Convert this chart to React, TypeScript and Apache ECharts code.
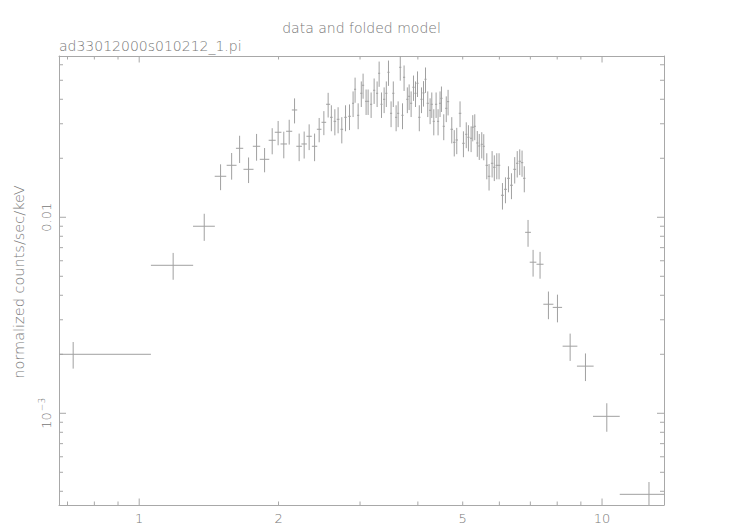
import React, { useEffect, useRef } from 'react';
import * as echarts from 'echarts';

// ---- data ----
const energy = [
  0.720, 1.184, 1.382,
  1.499, 1.584, 1.648, 1.723, 1.793, 1.866, 1.938, 1.996, 2.053, 2.109,
  2.166, 2.216, 2.272, 2.329, 2.393, 2.448, 2.506, 2.560,
  2.601, 2.647, 2.690, 2.740, 2.791, 2.847,
  2.898, 2.927, 2.972, 3.019, 3.046, 3.092, 3.123, 3.170, 3.218, 3.266,
  3.299, 3.338, 3.382, 3.419, 3.456, 3.501, 3.540, 3.590, 3.626, 3.665, 3.706, 3.735,
  3.796, 3.830, 3.868, 3.914, 3.953, 3.993, 4.029, 4.073, 4.114, 4.155, 4.202, 4.251, 4.287, 4.330,
  4.380, 4.423, 4.467, 4.498, 4.550, 4.607, 4.649, 4.735, 4.794, 4.854, 4.934, 5.018,
  5.089, 5.144, 5.213, 5.256, 5.309, 5.376, 5.429, 5.497, 5.552, 5.636, 5.700, 5.787, 5.851, 5.924, 5.991,
  6.093, 6.185, 6.278, 6.372, 6.476, 6.558, 6.640, 6.717, 6.792,
  6.920, 7.096, 7.346, 7.659, 8.011, 8.532, 9.208, 10.24, 12.63,
];

const energyHalfWidth = [
  0.340, 0.124, 0.075,
  0.043, 0.039, 0.030, 0.043, 0.033, 0.044, 0.034, 0.033, 0.033, 0.032,
  0.029, 0.031, 0.031, 0.031, 0.032, 0.028, 0.029, 0.026,
  0.017, 0.017, 0.018, 0.018, 0.018, 0.019,
  0.015, 0.015, 0.016, 0.016, 0.016, 0.016, 0.016, 0.017, 0.017, 0.017,
  0.017, 0.017, 0.018, 0.018, 0.018, 0.019, 0.019, 0.019, 0.019, 0.020, 0.020, 0.020,
  0.020, 0.020, 0.021, 0.021, 0.021, 0.021, 0.022, 0.022, 0.022, 0.022, 0.023, 0.023, 0.023, 0.023,
  0.024, 0.024, 0.024, 0.024, 0.025, 0.025, 0.025, 0.030, 0.030, 0.030, 0.031, 0.031,
  0.027, 0.027, 0.028, 0.028, 0.028, 0.029, 0.029, 0.029, 0.029, 0.035, 0.035, 0.035, 0.036, 0.036, 0.036,
  0.045, 0.045, 0.046, 0.046, 0.047, 0.040, 0.040, 0.040, 0.041,
  0.100, 0.118, 0.128, 0.192, 0.186, 0.313, 0.382, 0.680, 1.710,
];

const rate = [
  0.00200, 0.00569, 0.00900,
  0.01619, 0.01842, 0.02249, 0.01757, 0.02303, 0.01976, 0.02471, 0.02715, 0.02366, 0.02747,
  0.03527, 0.02303, 0.02366, 0.02590, 0.02303, 0.02812, 0.03052, 0.03772,
  0.03237, 0.03088, 0.03162, 0.02812, 0.03237, 0.03275,
  0.03816, 0.04499, 0.03314, 0.04292, 0.04716, 0.03906, 0.03906, 0.03772, 0.04446, 0.04292,
  0.05429, 0.03772, 0.03999, 0.04292, 0.05493, 0.03393, 0.04292, 0.03237, 0.03393, 0.05825, 0.03314, 0.05180,
  0.03999, 0.04143, 0.03816, 0.04606, 0.04292, 0.04828, 0.03237, 0.03999, 0.04310, 0.05060, 0.03816, 0.03515, 0.03772, 0.03088,
  0.03772, 0.03088, 0.03816, 0.04046, 0.02913, 0.03598, 0.03889, 0.02812, 0.02413, 0.02479, 0.03393, 0.02385,
  0.02651, 0.02560, 0.02530, 0.02879, 0.02913, 0.02394, 0.02311, 0.02357, 0.02303, 0.01842, 0.01619, 0.01886, 0.01800, 0.01842, 0.01842,
  0.01295, 0.01389, 0.01581, 0.01457, 0.01757, 0.01886, 0.01931, 0.01899, 0.01581,
  0.00838, 0.00590, 0.00576, 0.00360, 0.00347, 0.00220, 0.00174, 0.000965, 0.000386,
];

const rateError = [
  0.00031, 0.00089, 0.00142,
  0.00244, 0.00286, 0.00357, 0.00262, 0.00359, 0.00280, 0.00376, 0.00385, 0.00367, 0.00398,
  0.00515, 0.00370, 0.00372, 0.00389, 0.00370, 0.00399, 0.00428, 0.00543,
  0.0049, 0.0047, 0.0048, 0.0043, 0.0049, 0.0049,
  0.0057, 0.0066, 0.0050, 0.0064, 0.0069, 0.0058, 0.0058, 0.0056, 0.0066, 0.0064,
  0.0080, 0.0056, 0.0060, 0.0064, 0.0081, 0.0051, 0.0064, 0.0049, 0.0051, 0.0085, 0.0050, 0.0077,
  0.0060, 0.0062, 0.0057, 0.0068, 0.0064, 0.0072, 0.0049, 0.0060, 0.0064, 0.0075, 0.0057, 0.0053, 0.0056, 0.0047,
  0.0056, 0.0047, 0.0057, 0.0060, 0.0044, 0.0054, 0.0058, 0.0043, 0.0037, 0.0038, 0.0051, 0.0036,
  0.0040, 0.0039, 0.0038, 0.0044, 0.0044, 0.0036, 0.0035, 0.0036, 0.0035, 0.0028, 0.0025, 0.0029, 0.0027, 0.0028, 0.0028,
  0.0020, 0.0021, 0.0024, 0.0022, 0.0027, 0.0029, 0.0029, 0.0029, 0.0024,
  0.00131, 0.00092, 0.00090, 0.00058, 0.00056, 0.00035, 0.00028, 0.00016, 0.00006,
];

// axis ranges and ticks
const X_MIN = 0.671;
const X_MAX = 13.61;
const Y_MIN = 3.405e-4;
const Y_MAX = 0.0665;

const xTickValues = [0.7, 0.8, 0.9, 1, 2, 3, 4, 5, 6, 7, 8, 9, 10];
const xMajorTicks = [1, 10];
const xLabelValues = [1, 2, 5, 10];
const xLabelTexts = ['1', '2', '5', '10'];

const yTickValues = [
  0.0004, 0.0005, 0.0006, 0.0007, 0.0008, 0.0009, 0.001,
  0.002, 0.003, 0.004, 0.005, 0.006, 0.007, 0.008, 0.009, 0.01,
  0.02, 0.03, 0.04, 0.05, 0.06,
];
const yMajorTicks = [0.001, 0.01];
const yLabelValues = [0.001, 0.01];
const yLabelTexts = ['{b|10}{sup|\u22123}', '{b|0.01}'];

const titleText = 'data and folded model';
const subtitleText = 'ad33012000s010212_1.pi';
const yAxisTitle = 'normalized counts/sec/keV';

const FONT = '"DejaVu Sans", sans-serif';
const TEXT_COLOR = '#777777';
const LINE_COLOR = '#a0a0a0';
const FRAME_COLOR = '#a8a8a8';

export default function App() {
  const ref = useRef<HTMLDivElement>(null);

  useEffect(() => {
    if (!ref.current) return;
    const chart = echarts.init(ref.current, null, { renderer: 'svg' });

    const pointData = energy.map((e, i) => [e, rate[i], energyHalfWidth[i], rateError[i]]);

    const option: any = {
      animation: false,
      backgroundColor: '#ffffff',
      grid: { left: 59, top: 56, width: 605, height: 449, containLabel: false },
      xAxis: [
        {
          type: 'log', logBase: 10, min: X_MIN, max: X_MAX, position: 'bottom',
          axisLine: { show: true, lineStyle: { color: FRAME_COLOR, width: 1 } },
          axisTick: { show: false }, axisLabel: { show: false }, splitLine: { show: false },
        },
        {
          type: 'log', logBase: 10, min: X_MIN, max: X_MAX, position: 'top',
          axisLine: { show: true, lineStyle: { color: FRAME_COLOR, width: 1 } },
          axisTick: { show: false }, axisLabel: { show: false }, splitLine: { show: false },
        },
      ],
      yAxis: [
        {
          type: 'log', logBase: 10, min: Y_MIN, max: Y_MAX, position: 'left',
          axisLine: { show: true, lineStyle: { color: FRAME_COLOR, width: 1 } },
          axisTick: { show: false }, axisLabel: { show: false }, splitLine: { show: false },
        },
        {
          type: 'log', logBase: 10, min: Y_MIN, max: Y_MAX, position: 'right',
          axisLine: { show: true, lineStyle: { color: FRAME_COLOR, width: 1 } },
          axisTick: { show: false }, axisLabel: { show: false }, splitLine: { show: false },
        },
      ],
      graphic: [
        {
          type: 'text', x: 361.5, y: 28,
          style: { text: titleText, fill: TEXT_COLOR, font: `300 14px ${FONT}`, textAlign: 'center', textVerticalAlign: 'middle', align: 'center', verticalAlign: 'middle' },
        },
        {
          type: 'text', x: 59, y: 46,
          style: { text: subtitleText, fill: TEXT_COLOR, font: `300 14px ${FONT}`, textAlign: 'left', textVerticalAlign: 'middle', align: 'left', verticalAlign: 'middle' },
        },
        {
          type: 'text', x: 19, y: 282, rotation: Math.PI / 2,
          style: { text: yAxisTitle, fill: TEXT_COLOR, font: `300 14.5px ${FONT}`, textAlign: 'center', textVerticalAlign: 'middle', align: 'center', verticalAlign: 'middle' },
        },
      ],
      series: [
        {
          type: 'custom', name: 'xTicks', xAxisIndex: 0, yAxisIndex: 0, silent: true,
          data: xTickValues.map((v) => [v, Y_MIN]),
          encode: { x: 0, y: 1 },
          renderItem: (params: any, api: any) => {
            const v = api.value(0);
            const cs = params.coordSys;
            const x = api.coord([v, Y_MIN])[0];
            const len = xMajorTicks.indexOf(v) >= 0 ? 6.5 : 3.5;
            const st = { stroke: FRAME_COLOR, lineWidth: 1 };
            return {
              type: 'group',
              children: [
                { type: 'line', shape: { x1: x, y1: cs.y + cs.height, x2: x, y2: cs.y + cs.height - len }, style: st },
                { type: 'line', shape: { x1: x, y1: cs.y, x2: x, y2: cs.y + len }, style: st },
              ],
            };
          },
        },
        {
          type: 'custom', name: 'yTicks', xAxisIndex: 0, yAxisIndex: 0, silent: true,
          data: yTickValues.map((v) => [X_MIN, v]),
          encode: { x: 0, y: 1 },
          renderItem: (params: any, api: any) => {
            const v = api.value(1);
            const cs = params.coordSys;
            const y = api.coord([X_MIN, v])[1];
            const isMajor = yMajorTicks.some((m) => Math.abs(m - v) / m < 1e-6);
            const len = isMajor ? 7 : 4;
            const st = { stroke: FRAME_COLOR, lineWidth: 1 };
            return {
              type: 'group',
              children: [
                { type: 'line', shape: { x1: cs.x, y1: y, x2: cs.x + len, y2: y }, style: st },
                { type: 'line', shape: { x1: cs.x + cs.width, y1: y, x2: cs.x + cs.width - len, y2: y }, style: st },
              ],
            };
          },
        },
        {
          type: 'custom', name: 'xLabels', xAxisIndex: 0, yAxisIndex: 0, silent: true,
          data: xLabelValues.map((v) => [v, Y_MIN]),
          encode: { x: 0, y: 1 },
          renderItem: (params: any, api: any) => {
            const cs = params.coordSys;
            const x = api.coord([api.value(0), Y_MIN])[0];
            return {
              type: 'text', x, y: cs.y + cs.height + 13,
              style: {
                text: xLabelTexts[params.dataIndex], fill: TEXT_COLOR, font: `300 13px ${FONT}`,
                textAlign: 'center', textVerticalAlign: 'middle', align: 'center', verticalAlign: 'middle',
              },
            };
          },
        },
        {
          type: 'custom', name: 'yLabels', xAxisIndex: 0, yAxisIndex: 0, silent: true,
          data: yLabelValues.map((v) => [X_MIN, v]),
          encode: { x: 0, y: 1 },
          renderItem: (params: any, api: any) => {
            const cs = params.coordSys;
            const y = api.coord([X_MIN, api.value(1)])[1];
            return {
              type: 'text', x: cs.x - 13, y, rotation: Math.PI / 2,
              style: {
                text: yLabelTexts[params.dataIndex], fill: TEXT_COLOR,
                textAlign: 'center', textVerticalAlign: 'middle', align: 'center', verticalAlign: 'middle',
                rich: {
                  b: { fontSize: 13, fontFamily: FONT, fontWeight: 300, fill: TEXT_COLOR },
                  sup: { fontSize: 9, fontFamily: FONT, fontWeight: 300, fill: TEXT_COLOR, padding: [0, 0, 8, 1] },
                },
              },
            };
          },
        },
        {
          type: 'custom', name: 'data', xAxisIndex: 0, yAxisIndex: 0, silent: true,
          data: pointData,
          encode: { x: 0, y: 1 },
          renderItem: (params: any, api: any) => {
            const cs = params.coordSys;
            const e = api.value(0);
            const r = api.value(1);
            const hw = api.value(2);
            const er = api.value(3);
            const cx = (v: number) => Math.max(cs.x, Math.min(cs.x + cs.width, v));
            const cy = (v: number) => Math.max(cs.y, Math.min(cs.y + cs.height, v));
            const p = api.coord([e, r]);
            const xl = api.coord([Math.max(e - hw, 1e-3), r])[0];
            const xr = api.coord([e + hw, r])[0];
            const yt = api.coord([e, r + er])[1];
            const yb = api.coord([e, Math.max(r - er, 1e-6)])[1];
            const st = { stroke: LINE_COLOR, lineWidth: 1 };
            return {
              type: 'group',
              children: [
                { type: 'line', shape: { x1: cx(xl), y1: p[1], x2: cx(xr), y2: p[1] }, style: st },
                { type: 'line', shape: { x1: p[0], y1: cy(yt), x2: p[0], y2: cy(yb) }, style: st },
              ],
            };
          },
        },
      ],
    };

    chart.setOption(option);
    return () => {
      chart.dispose();
    };
  }, []);

  return (
    <div
      ref={ref}
      style={{ position: 'fixed', left: 0, top: 0, width: 740, height: 530, background: '#fff' }}
    />
  );
}
